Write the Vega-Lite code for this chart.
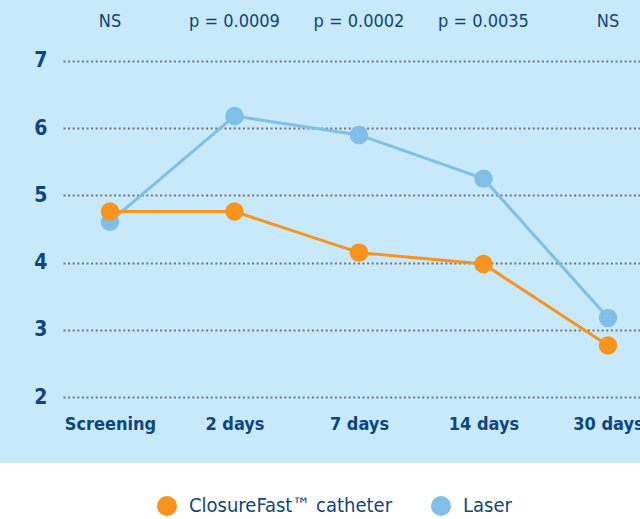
{
  "$schema": "https://vega.github.io/schema/vega-lite/v6.json",
  "width": 640,
  "height": 463,
  "autosize": {"type": "none"},
  "padding": {"left": 0, "top": 0, "right": 0, "bottom": 56},
  "background": "white",
  "config": {
    "view": {"stroke": null, "fill": "#c7e9f9"},
    "font": "'Liberation Sans Narrow', 'DejaVu Sans Condensed', 'Roboto Condensed', sans-serif"
  },
  "datasets": {
    "scores": [
      {"series": "Laser", "time": "Screening", "value": 4.61},
      {"series": "Laser", "time": "2 days", "value": 6.18},
      {"series": "Laser", "time": "7 days", "value": 5.9},
      {"series": "Laser", "time": "14 days", "value": 5.25},
      {"series": "Laser", "time": "30 days", "value": 3.18},
      {"series": "ClosureFast™ catheter", "time": "Screening", "value": 4.76},
      {"series": "ClosureFast™ catheter", "time": "2 days", "value": 4.76},
      {"series": "ClosureFast™ catheter", "time": "7 days", "value": 4.15},
      {"series": "ClosureFast™ catheter", "time": "14 days", "value": 3.98},
      {"series": "ClosureFast™ catheter", "time": "30 days", "value": 2.77}
    ],
    "pvals": [
      {"time": "Screening", "label": "NS"},
      {"time": "2 days", "label": "p = 0.0009"},
      {"time": "7 days", "label": "p = 0.0002"},
      {"time": "14 days", "label": "p = 0.0035"},
      {"time": "30 days", "label": "NS"}
    ]
  },
  "layer": [
    {
      "data": {"name": "scores"},
      "mark": {"type": "line", "strokeWidth": 3},
      "encoding": {
        "x": {
          "field": "time",
          "type": "ordinal",
          "sort": ["Screening", "2 days", "7 days", "14 days", "30 days"],
          "scale": {"type": "point", "range": [63, 640], "padding": 0.317, "align": 0.595},
          "axis": {
            "title": null,
            "orient": "bottom",
            "offset": -54,
            "domain": false,
            "ticks": false,
            "grid": false,
            "labelPadding": 6,
            "labelAngle": 0,
            "labelFontSize": 18,
            "labelFontWeight": "bold",
            "labelColor": "#0e4583"
          }
        },
        "y": {
          "field": "value",
          "type": "quantitative",
          "scale": {"domain": [1.022, 7.906], "nice": false, "zero": false},
          "axis": {
            "title": null,
            "values": [2, 3, 4, 5, 6, 7],
            "format": "d",
            "offset": -63,
            "domain": false,
            "ticks": false,
            "grid": true,
            "gridColor": "#75767a",
            "gridWidth": 2,
            "gridDash": [2, 2.6],
            "labelPadding": 16,
            "labelFontSize": 21,
            "labelFontWeight": "bold",
            "labelColor": "#0e4583"
          }
        },
        "color": {
          "field": "series",
          "type": "nominal",
          "scale": {"domain": ["ClosureFast™ catheter", "Laser"], "range": ["#f7941d", "#7fbfe8"]},
          "legend": {
            "title": null,
            "orient": "none",
            "legendX": 157,
            "legendY": 496,
            "direction": "horizontal",
            "columnPadding": 38,
            "symbolType": "circle",
            "symbolSize": 400,
            "symbolOpacity": 1,
            "symbolStrokeWidth": 0,
            "labelOffset": 12,
            "labelFontSize": 20,
            "labelLimit": 400,
            "labelColor": "#0e4583"
          }
        },
        "detail": {"field": "series"}
      }
    },
    {
      "data": {"name": "scores"},
      "mark": {"type": "point", "filled": true, "opacity": 1, "size": 340},
      "encoding": {
        "x": {"field": "time", "type": "ordinal", "sort": ["Screening", "2 days", "7 days", "14 days", "30 days"]},
        "y": {"field": "value", "type": "quantitative"},
        "color": {"field": "series", "type": "nominal"}
      }
    },
    {
      "data": {"name": "pvals"},
      "mark": {"type": "text", "fontSize": 18, "color": "#0e4583", "baseline": "middle", "align": "center"},
      "encoding": {
        "x": {"field": "time", "type": "ordinal", "sort": ["Screening", "2 days", "7 days", "14 days", "30 days"]},
        "y": {"datum": 7.58, "type": "quantitative"},
        "text": {"field": "label"}
      }
    }
  ]
}
